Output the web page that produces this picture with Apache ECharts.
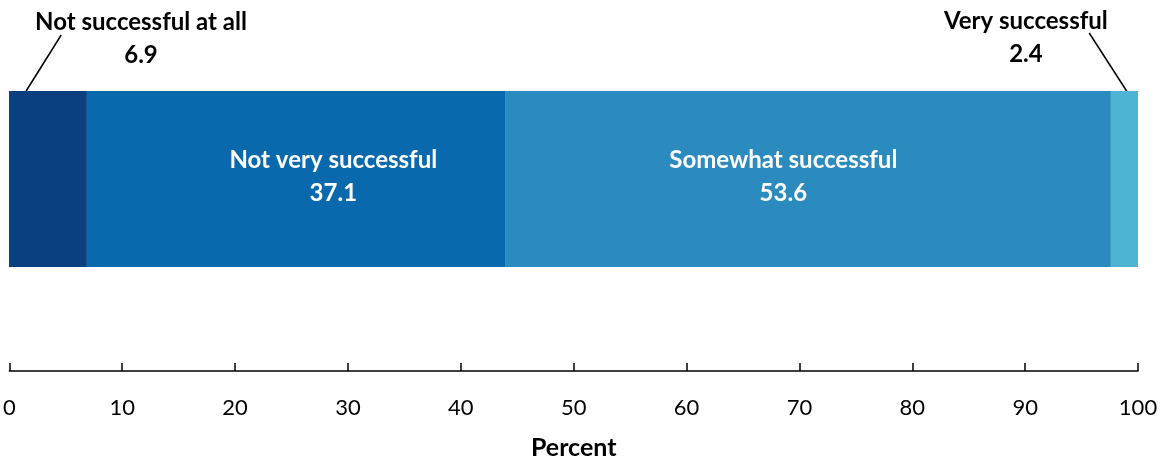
<!DOCTYPE html>
<html>
<head>
<meta charset="utf-8">
<script src="https://cdn.jsdelivr.net/npm/echarts@6/dist/echarts.min.js"></script>
<style>
  html, body { margin: 0; padding: 0; background: #fff; }
  #chart { width: 1165px; height: 462px; }
</style>
</head>
<body>
<div id="chart"></div>
<script>
// Response categories and their shares (percent)
const categories = ['Not successful at all', 'Not very successful', 'Somewhat successful', 'Very successful'];
const values = [6.9, 37.1, 53.6, 2.4];
const colors = ['#0c3f7f', '#0a69ad', '#2c8bbe', '#4fb3d4'];
const tickValues = [0, 10, 20, 30, 40, 50, 60, 70, 80, 90, 100];
const axisTitle = 'Percent';

const FONT = 'Lato, "Open Sans", sans-serif';
const GRID_LEFT = 9, GRID_RIGHT = 27, BAR_TOP = 91, BAR_H = 176;

// label placement per segment: inside labels are white, end labels sit above the bar
const labelSpecs = [
  { position: [132, -52], color: '#000' },
  { position: 'inside', offset: [37, -2], color: '#fff' },
  { position: 'inside', offset: [-25, -2], color: '#fff' },
  { position: [-85, -53], color: '#000' }
];

const series = categories.map((name, i) => ({
  name: name,
  type: 'bar',
  stack: 'total',
  xAxisIndex: 0,
  yAxisIndex: 0,
  barWidth: '100%',
  barCategoryGap: 0,
  itemStyle: { color: colors[i] },
  label: {
    show: true,
    position: labelSpecs[i].position,
    offset: labelSpecs[i].offset,
    align: 'center',
    verticalAlign: 'middle',
    color: labelSpecs[i].color,
    fontFamily: FONT,
    fontWeight: 'bold',
    fontSize: 24,
    lineHeight: 33,
    formatter: p => p.seriesName + '\n' + p.value.toFixed(1)
  },
  emphasis: { disabled: true },
  data: [values[i]]
}));

const chart = echarts.init(document.getElementById('chart'), null, { renderer: 'canvas' });
chart.setOption({
  animation: false,
  backgroundColor: '#fff',
  grid: [
    { left: GRID_LEFT, right: GRID_RIGHT, top: BAR_TOP, height: BAR_H },
    { left: GRID_LEFT, right: GRID_RIGHT, top: 300, bottom: 91 }
  ],
  xAxis: [
    { gridIndex: 0, type: 'value', min: 0, max: 100, show: false },
    {
      gridIndex: 1, type: 'value', min: 0, max: 100, interval: 10,
      name: axisTitle, nameLocation: 'middle', nameGap: 64,
      nameTextStyle: { fontFamily: FONT, fontWeight: 'bold', fontSize: 25, color: '#000' },
      axisLine: { show: true, lineStyle: { color: '#000', width: 1.5 } },
      axisTick: { show: true, inside: true, length: 8, lineStyle: { color: '#000', width: 1.5 } },
      axisLabel: {
        margin: 26, fontFamily: FONT, fontSize: 22, color: '#000',
        formatter: v => tickValues.includes(v) ? String(v) : ''
      },
      splitLine: { show: false }
    }
  ],
  yAxis: [
    { gridIndex: 0, type: 'category', data: [''], show: false },
    { gridIndex: 1, type: 'value', show: false, min: 0, max: 1 }
  ],
  series: series
});

// Leader lines from the narrow end segments up to their labels
function leader(xBar, xLabel, yLabel) {
  const p0 = chart.convertToPixel({ xAxisIndex: 0 }, xBar);
  const p1 = chart.convertToPixel({ xAxisIndex: 0 }, xLabel);
  return {
    type: 'line',
    shape: { x1: p0, y1: BAR_TOP, x2: p1, y2: yLabel },
    style: { stroke: '#000', lineWidth: 1.5 },
    silent: true
  };
}
chart.setOption({
  graphic: [
    leader(values[0] * 0.22, values[0] * 0.67, 35),
    leader(100 - values[3] * 0.42, 100 - values[3] * 1.8, 33)
  ]
});
</script>
</body>
</html>
